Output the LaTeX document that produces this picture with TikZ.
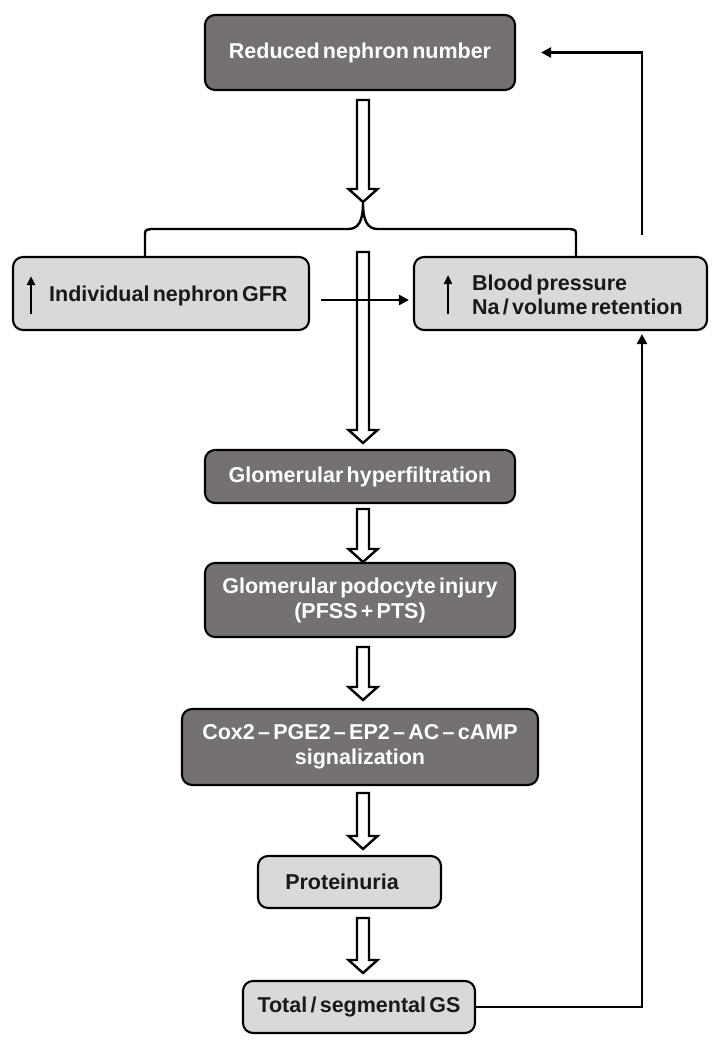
\documentclass[tikz,border=0pt]{standalone}
\usepackage{fontspec}
\setmainfont[WordSpace=0.55]{Liberation Sans}
\usetikzlibrary{arrows.meta,calc}
\definecolor{darkbox}{HTML}{767171}
\definecolor{lightbox}{HTML}{D9D9D9}
\newcommand\hollowarrow[2]{%
  \draw[hollow] let \p1=(#1), \p2=(#2) in
   (\x1-6pt,\y1) -- (\x1+6pt,\y1) -- (\x1+6pt,\y2+13pt) -- (\x1+14.5pt,\y2+13pt)
   -- (\x1,\y2) -- (\x1-14.5pt,\y2+13pt) -- (\x1-6pt,\y2+13pt) -- cycle;}
\tikzset{
  box/.style={draw=black, line width=2.1pt, rounded corners=10pt, inner sep=0pt,
    font=\fontsize{21.5}{25}\selectfont\bfseries, align=center},
  darkb/.style={box, fill=darkbox, text=white},
  lightb/.style={box, fill=lightbox, text=black!90},
  hollow/.style={draw=black, fill=white, line width=2.4pt, line join=miter},
  conn/.style={draw=black, line width=2.7pt},
  tip/.style={-{Triangle[length=10pt,width=10pt]}},
  uparr/.style={draw=black, line width=2.6pt, -{Triangle[length=9pt,width=8pt]}},
  lbl/.style={font=\fontsize{21.5}{24}\selectfont\bfseries, text=black!90, inner sep=0pt, align=left}
}
\begin{document}
\begin{tikzpicture}[x=1pt,y=-1pt]
\useasboundingbox (0,0) rectangle (724,1049);
% boxes
\node[darkb, minimum width=310pt, minimum height=75pt] (b1) at (360,52.5) {Reduced nephron number};
\node[lightb, minimum width=296pt, minimum height=73pt] (b2) at (161,293.5) {};
\node[lightb, minimum width=293pt, minimum height=73pt] (b3) at (560.5,293.5) {};
\node[darkb, minimum width=310pt, minimum height=53pt] (b4) at (360,476.5) {Glomerular hyperfiltration};
\node[darkb, minimum width=310pt, minimum height=74pt] (b5) at (360,600) {Glomerular podocyte injury\\(PFSS + PTS)};
\node[darkb, minimum width=356pt, minimum height=76pt] (b6) at (360,747) {Cox2 – PGE2 – EP2 – AC – cAMP\\signalization};
\node[lightb, minimum width=183pt, minimum height=52pt] (b7) at (349.5,882) {};
\node[lbl, anchor=center] (t7) at (342,882) {Proteinuria};
\node[lightb, minimum width=232pt, minimum height=52pt] (b8) at (359,1007) {Total / segmental GS};
% labels inside side boxes
\node[lbl, anchor=west] (t2) at (49,296) {Individual nephron GFR};
\node[lbl, anchor=west] (t3) at (472,295) {Blood pressure\\Na / volume retention};
\coordinate (u2a) at (31,314); \coordinate (u2b) at (31,276);
\coordinate (u3a) at (448,314); \coordinate (u3b) at (448,275);
\draw[uparr] (u2a) -- (u2b);
\draw[uparr] (u3a) -- (u3b);
% brace
\coordinate (brl) at (145,257);
\coordinate (brr) at (576,257);
\coordinate (brc) at (363,203);
\draw[conn, line width=2.4pt] (brl) -- (145,236) .. controls (145,230) .. (151,229) -- (348,229)
  .. controls (358,229) and (363,222) .. (brc)
  .. controls (363,222) and (368,229) .. (378,229) -- (570,229)
  .. controls (576,230) .. (576,236) -- (brr);
% hollow arrows
\coordinate (h1a) at (363,100); \coordinate (h1b) at (363,202);
\coordinate (h2a) at (363,252); \coordinate (h2b) at (363,443);
\coordinate (h3a) at (363,509); \coordinate (h3b) at (363,562);
\coordinate (h4a) at (363,647); \coordinate (h4b) at (363,700);
\coordinate (h5a) at (363,793); \coordinate (h5b) at (363,849);
\coordinate (h6a) at (363,918); \coordinate (h6b) at (363,973);
\hollowarrow{h1a}{h1b}
\hollowarrow{h2a}{h2b}
\hollowarrow{h3a}{h3b}
\hollowarrow{h4a}{h4b}
\hollowarrow{h5a}{h5b}
\hollowarrow{h6a}{h6b}
% horizontal arrow GFR -> BP
\draw[conn, tip, shorten <=11pt, shorten >=4pt] (b2.east |- 0,300) -- (b3.west |- 0,300);
% feedback loop
\coordinate (fbtop) at (642,235);
\draw[conn, tip, shorten >=3pt] (b8.east) -| (b3.south -| fbtop);
\draw[conn, tip, shorten >=25pt] (fbtop) |- (b1.east);
\end{tikzpicture}
\end{document}
